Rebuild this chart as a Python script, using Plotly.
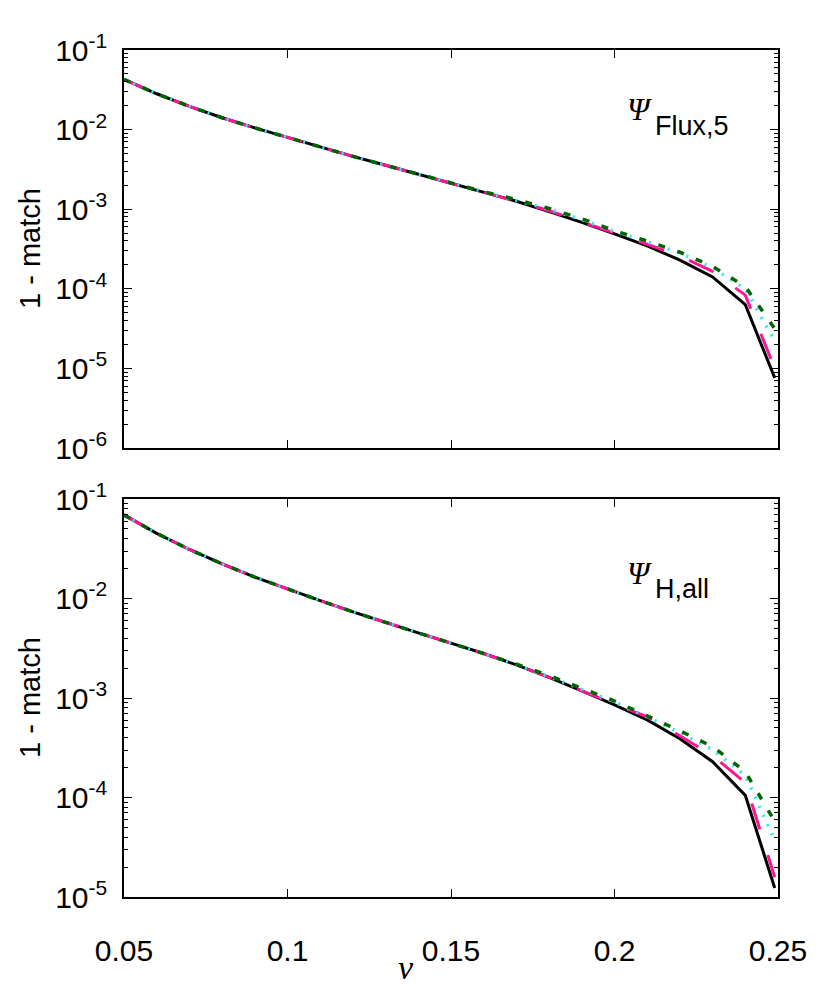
import plotly.graph_objects as go
from plotly.subplots import make_subplots

nu = [0.05, 0.06, 0.07, 0.08, 0.09, 0.10, 0.11, 0.12, 0.13, 0.14, 0.15,
      0.16, 0.17, 0.18, 0.19, 0.20, 0.21, 0.22, 0.23, 0.24, 0.249]

# Top panel (Psi_Flux,5)
top_black = [4.27e-2, 2.82e-2, 1.96e-2, 1.41e-2, 1.05e-2, 7.94e-3, 6.03e-3, 4.61e-3, 3.56e-3, 2.75e-3, 2.14e-3,
             1.66e-3, 1.26e-3, 9.33e-4, 6.84e-4, 4.90e-4, 3.47e-4, 2.29e-4, 1.41e-4, 6.31e-5, 7.59e-6]
top_magenta = [4.27e-2, 2.82e-2, 1.96e-2, 1.41e-2, 1.05e-2, 7.94e-3, 6.03e-3, 4.61e-3, 3.56e-3, 2.75e-3, 2.14e-3,
               1.66e-3, 1.26e-3, 9.55e-4, 6.92e-4, 5.01e-4, 3.63e-4, 2.57e-4, 1.66e-4, 8.32e-5, 1.00e-5]
top_cyan = [4.27e-2, 2.82e-2, 1.96e-2, 1.41e-2, 1.05e-2, 7.94e-3, 6.03e-3, 4.61e-3, 3.56e-3, 2.75e-3, 2.14e-3,
            1.66e-3, 1.29e-3, 1.00e-3, 7.41e-4, 5.25e-4, 3.89e-4, 2.82e-4, 1.82e-4, 1.00e-4, 2.19e-5]
top_green = [4.27e-2, 2.82e-2, 1.96e-2, 1.41e-2, 1.05e-2, 7.94e-3, 6.03e-3, 4.61e-3, 3.56e-3, 2.75e-3, 2.14e-3,
             1.66e-3, 1.32e-3, 1.02e-3, 7.59e-4, 5.37e-4, 3.98e-4, 2.88e-4, 1.91e-4, 1.07e-4, 3.16e-5]

# Bottom panel (Psi_H,all)
bot_black = [6.92e-2, 4.52e-2, 3.11e-2, 2.23e-2, 1.64e-2, 1.24e-2, 9.51e-3, 7.35e-3, 5.73e-3, 4.51e-3, 3.56e-3,
             2.80e-3, 2.15e-3, 1.61e-3, 1.18e-3, 8.55e-4, 6.03e-4, 3.89e-4, 2.29e-4, 1.05e-4, 1.23e-5]
bot_magenta = [6.92e-2, 4.52e-2, 3.11e-2, 2.23e-2, 1.64e-2, 1.24e-2, 9.51e-3, 7.35e-3, 5.73e-3, 4.51e-3, 3.56e-3,
               2.80e-3, 2.15e-3, 1.61e-3, 1.18e-3, 8.71e-4, 6.46e-4, 4.17e-4, 2.63e-4, 1.41e-4, 1.58e-5]
bot_cyan = [6.92e-2, 4.52e-2, 3.11e-2, 2.23e-2, 1.64e-2, 1.24e-2, 9.51e-3, 7.35e-3, 5.73e-3, 4.51e-3, 3.56e-3,
            2.80e-3, 2.15e-3, 1.64e-3, 1.22e-3, 9.12e-4, 6.46e-4, 4.47e-4, 3.02e-4, 1.66e-4, 3.72e-5]
bot_green = [6.92e-2, 4.52e-2, 3.11e-2, 2.23e-2, 1.64e-2, 1.24e-2, 9.51e-3, 7.35e-3, 5.73e-3, 4.51e-3, 3.56e-3,
             2.80e-3, 2.19e-3, 1.68e-3, 1.26e-3, 9.33e-4, 6.61e-4, 4.68e-4, 3.24e-4, 1.82e-4, 5.75e-5]

x_ticks = [0.05, 0.1, 0.15, 0.2, 0.25]
x_ticktext = ["0.05", "0.1", "0.15", "0.2", "0.25"]
top_yticks = [1e-1, 1e-2, 1e-3, 1e-4, 1e-5, 1e-6]
top_yticktext = ["10<sup>-1</sup>", "10<sup>-2</sup>", "10<sup>-3</sup>", "10<sup>-4</sup>", "10<sup>-5</sup>", "10<sup>-6</sup>"]
bot_yticks = [1e-1, 1e-2, 1e-3, 1e-4, 1e-5]
bot_yticktext = ["10<sup>-1</sup>", "10<sup>-2</sup>", "10<sup>-3</sup>", "10<sup>-4</sup>", "10<sup>-5</sup>"]

BLACK = "#000000"
MAGENTA = "#FF1493"
CYAN = "#2EE6F0"
GREEN = "#006400"

styles = [
    (BLACK, "solid", 3),
    (MAGENTA, "27px,27px", 3),
    (CYAN, "2px,8px", 3.5),
    (GREEN, "7px,13px", 3.5),
]

fig = make_subplots(rows=2, cols=1, shared_xaxes=False)

for row, series in ((1, [top_black, top_magenta, top_cyan, top_green]),
                    (2, [bot_black, bot_magenta, bot_cyan, bot_green])):
    for ys, (col, dash, w) in zip(series, styles):
        fig.add_trace(go.Scatter(x=nu, y=ys, mode="lines",
                                 line=dict(color=col, dash=dash, width=w),
                                 showlegend=False, cliponaxis=True),
                      row=row, col=1)

FONT = "Liberation Sans, Arial, sans-serif"
axis_common = dict(showline=True, linecolor="black", linewidth=1.5, mirror="allticks",
                   ticks="inside", ticklen=8, tickwidth=1, tickcolor="black",
                   showgrid=False, zeroline=False,
                   tickfont=dict(family=FONT, size=30, color="black"))

# page has an 8px body margin; plot area spans x 124..778, y 50..448 and 499..897
fig.update_layout(
    width=814, height=981,
    margin=dict(l=116, r=44, t=42, b=92),
    paper_bgcolor="white", plot_bgcolor="white",
    xaxis=dict(domain=[0, 1], range=[0.05, 0.25], tickvals=x_ticks, ticktext=x_ticktext,
               showticklabels=False, anchor="y", **axis_common),
    yaxis=dict(domain=[449/847, 1], type="log", range=[-6, -1], tickvals=top_yticks,
               ticktext=top_yticktext, anchor="x", ticklabelstandoff=9,
               minor=dict(ticks="inside", ticklen=4, tickcolor="black", dtick="D1", showgrid=False),
               **axis_common),
    xaxis2=dict(domain=[0, 1], range=[0.05, 0.25], tickvals=x_ticks, ticktext=x_ticktext,
                anchor="y2", ticklabelstandoff=26, **axis_common),
    yaxis2=dict(domain=[0, 398/847], type="log", range=[-5, -1], tickvals=bot_yticks,
                ticktext=bot_yticktext, anchor="x2", ticklabelstandoff=9,
                minor=dict(ticks="inside", ticklen=4, tickcolor="black", dtick="D1", showgrid=False),
                **axis_common),
)

# Axis titles as annotations
for yc in (249, 698):
    fig.add_annotation(text="1 - match", xref="paper", yref="paper", x=-94/654, y=(897-yc)/847,
                       textangle=-90, showarrow=False, xanchor="center", yanchor="middle",
                       font=dict(family=FONT, size=29, color="black"))
fig.add_annotation(text="<i>ν</i>", xref="paper", yref="paper", x=(406-124)/654, y=(897-967)/847,
                   showarrow=False, xanchor="center", yanchor="middle",
                   font=dict(family="Liberation Serif, Times New Roman, serif", size=34, color="black"))

# Panel labels
for (psi_y, sub_y, sub) in ((109, 126, "Flux,5"), (573, 589, "H,all")):
    fig.add_annotation(text="<i>Ψ</i>", xref="paper", yref="paper", x=(639-124)/654, y=(897-psi_y)/847,
                       showarrow=False, xanchor="center", yanchor="middle",
                       font=dict(family="Liberation Serif, Times New Roman, serif", size=32, color="black"))
    fig.add_annotation(text=sub, xref="paper", yref="paper", x=(653-124)/654, y=(897-sub_y)/847,
                       showarrow=False, xanchor="left", yanchor="middle",
                       font=dict(family=FONT, size=27, color="black"))

fig.write_html("out.html")
